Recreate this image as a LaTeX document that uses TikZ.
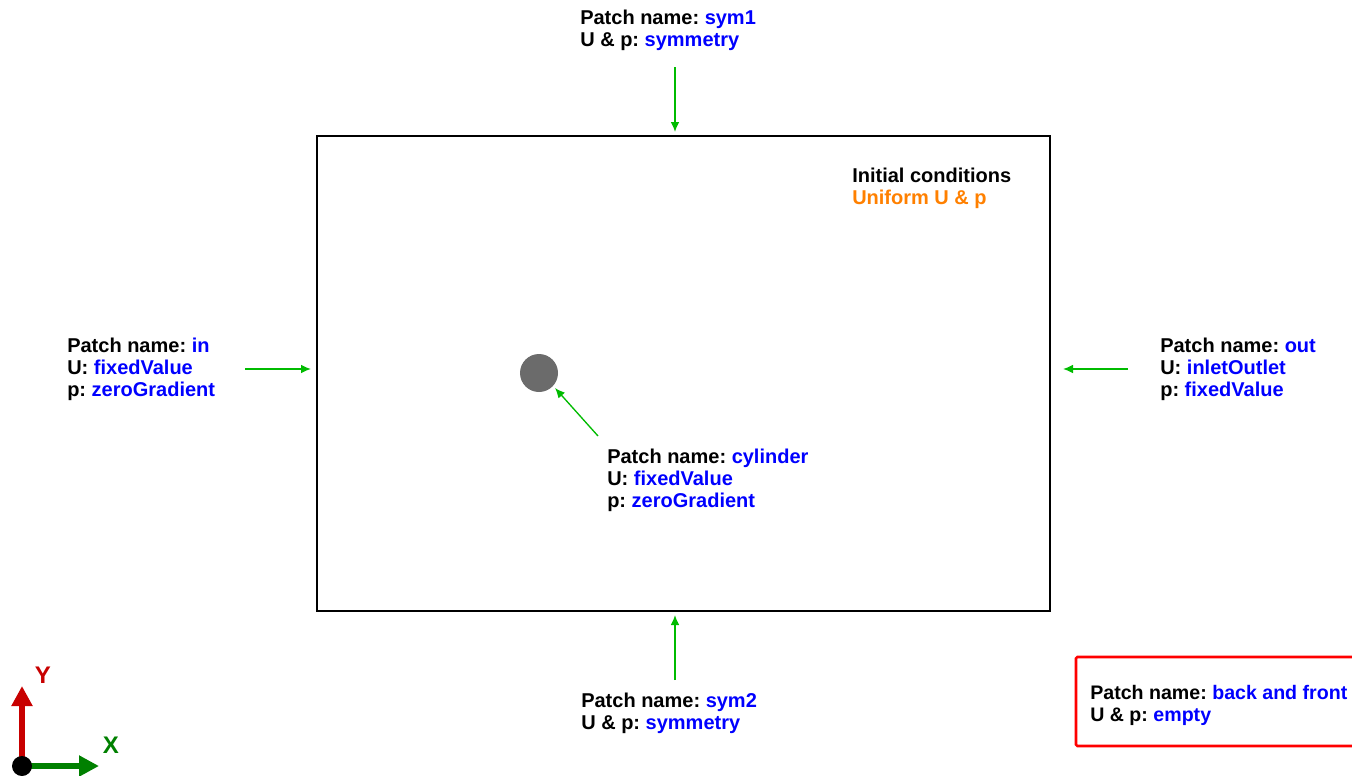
\documentclass[tikz,border=0pt]{standalone}
\usepackage{fontspec}
\setmainfont{Liberation Sans}
\usetikzlibrary{arrows.meta}
\definecolor{valblue}{RGB}{0,0,255}
\definecolor{arrgreen}{RGB}{0,187,0}
\definecolor{iniorange}{RGB}{255,128,0}
\definecolor{axred}{RGB}{200,0,0}
\definecolor{axgreen}{RGB}{0,128,0}
\definecolor{cylgray}{RGB}{107,107,107}
\tikzset{
  lbl/.style={anchor=base west, inner sep=0pt, align=left, font=\fontsize{15}{16.5}\selectfont\bfseries\frenchspacing},
  bcarrow/.style={draw=arrgreen, line width=1pt, -{Latex[length=7.5pt,width=6.5pt]}}
}
\newcommand{\vv}[1]{\textcolor{valblue}{#1}}
\begin{document}
\begin{tikzpicture}[x=0.75pt,y=-0.75pt]
\useasboundingbox (0,0) rectangle (1352,775);
% domain
\node[draw, line width=1.9pt, minimum width=733*0.75pt, minimum height=475*0.75pt, inner sep=0pt] (domain) at (683.5,373.5) {};
% cylinder
\node[circle, fill=cylgray, minimum size=38*0.75pt, inner sep=0pt] (cyl) at (539,373) {};
% labels (anchor = baseline of last line)
\node[lbl] (sym1) at (580,46) {Patch name: \vv{sym1}\\U \& p: \vv{symmetry}};
\node[lbl] (init) at (852,204) {Initial conditions\\\textcolor{iniorange}{Uniform U \& p}};
\node[lbl] (inlbl) at (67,396) {Patch name: \vv{in}\\U: \vv{fixedValue}\\p: \vv{zeroGradient}};
\node[lbl] (outlbl) at (1160,396) {Patch name: \vv{out}\\U: \vv{inletOutlet}\\p: \vv{fixedValue}};
\node[lbl] (cyllbl) at (607,507) {Patch name: \vv{cylinder}\\U: \vv{fixedValue}\\p: \vv{zeroGradient}};
\node[lbl] (sym2) at (581,729) {Patch name: \vv{sym2}\\U \& p: \vv{symmetry}};
\node[lbl, font=\fontsize{14.7}{16.5}\selectfont\bfseries\frenchspacing] (bf) at (1090,721) {Patch name: \vv{back and front}\\U \& p: \vv{empty}};
% red box
\draw[draw=red, line width=1.9pt, rounded corners=1pt] (1356,657) -- (1076,657) -- (1076,746) -- (1356,746);
% arrow coordinates
\coordinate (t0) at (675,67);  \coordinate (t1) at (675,132);
\coordinate (b0) at (675,680); \coordinate (b1) at (675,615);
\coordinate (l0) at (245,369); \coordinate (l1) at (311,369);
\coordinate (r0) at (1128,369); \coordinate (r1) at (1063,369);
\coordinate (c0) at (598,436); \coordinate (c1) at (555,388);
\draw[bcarrow] (t0) -- (t1);
\draw[bcarrow] (b0) -- (b1);
\draw[bcarrow] (l0) -- (l1);
\draw[bcarrow] (r0) -- (r1);
\draw[bcarrow] (c0) -- (c1);
% axes
\coordinate (o) at (22,766);
\coordinate (ytip) at (22,686);
\coordinate (xtip) at (99,766);
\draw[axred, line width=4pt, -{Triangle[length=15pt,width=15pt]}] (o) -- (ytip);
\draw[axgreen, line width=4pt, -{Triangle[length=15pt,width=15pt]}] (o) -- (xtip);
\node[circle, fill=black, minimum size=20*0.75pt, inner sep=0pt] (orig) at (o) {};
\node[anchor=center, inner sep=0pt, text=axred, font=\fontsize{18}{18}\selectfont\bfseries] (ylbl) at (43,675) {Y};
\node[anchor=center, inner sep=0pt, text=axgreen, font=\fontsize{18}{18}\selectfont\bfseries] (xlbl) at (111,745) {X};
\end{tikzpicture}
\end{document}
